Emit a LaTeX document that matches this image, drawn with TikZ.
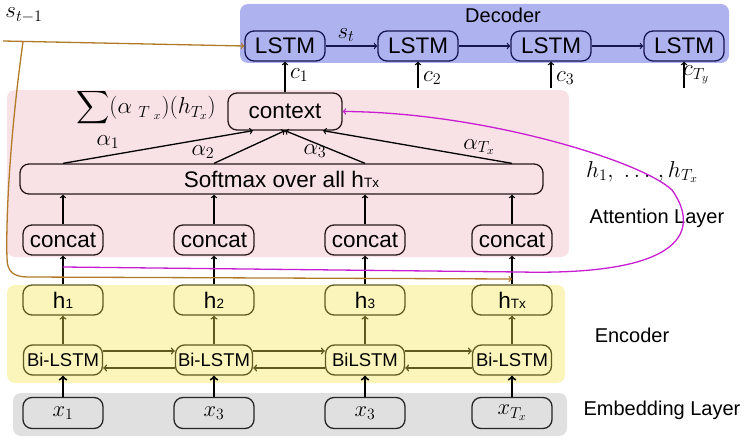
\RequirePackage{fix-cm}
\documentclass[tikz,border=0pt]{standalone}
\usepackage[no-math]{fontspec}
\setmainfont{Liberation Sans}
\DeclareFontFamily{OMX}{cmex}{}
\DeclareFontShape{OMX}{cmex}{m}{n}{<->cmex10}{}
\usetikzlibrary{calc}
\definecolor{decbg}{RGB}{174,178,238}
\definecolor{navyc}{RGB}{22,22,80}
\definecolor{attbg}{RGB}{249,226,230}
\definecolor{attbd}{RGB}{40,25,25}
\definecolor{encbg}{RGB}{251,245,187}
\definecolor{olivec}{RGB}{95,90,30}
\definecolor{embbg}{RGB}{224,224,224}
\definecolor{brownc}{RGB}{176,122,40}
\definecolor{magc}{RGB}{200,30,210}
\tikzset{
  nodefont/.style={font=\fontsize{22.5}{24}\selectfont},
  lstmbox/.style={draw=navyc, line width=1.3pt, rounded corners=9pt, minimum width=80pt, minimum height=30pt, inner sep=0pt, nodefont},
  attbox/.style={draw=attbd, fill=attbg, line width=1.3pt, rounded corners=9pt, minimum width=80pt, minimum height=30pt, inner sep=0pt, nodefont},
  encbox/.style={draw=olivec, fill=encbg, line width=1.3pt, rounded corners=9pt, minimum width=80pt, minimum height=30pt, inner sep=0pt, nodefont},
  embbox/.style={draw=black!85, fill=embbg, line width=1.3pt, rounded corners=9pt, minimum width=80pt, minimum height=31pt, inner sep=0pt, nodefont},
  lbl/.style={inner sep=0pt, font=\fontsize{20}{22}\selectfont},
  mlbl/.style={inner sep=0pt, font=\fontsize{23}{25}\selectfont},
  navyarr/.style={draw=navyc, line width=1.3pt, ->},
  blkarr/.style={draw=black, line width=1.3pt, ->},
  thickarr/.style={draw=black, line width=2pt, ->},
  olivearr/.style={draw=olivec, line width=1.5pt, ->},
  brownline/.style={draw=brownc, line width=1.3pt},
  magline/.style={draw=magc, line width=1.3pt},
}
\newcommand{\smallsub}[1]{{\fontsize{13.5}{14}\selectfont #1}}
\begin{document}
\begin{tikzpicture}[x=1pt,y=-1pt]
\useasboundingbox (0,0) rectangle (747,444);
% layer backgrounds
\fill[decbg, rounded corners=8pt] (240,4) rectangle (729,63);
\fill[attbg, rounded corners=8pt] (7,90) rectangle (569,257);
\fill[encbg, rounded corners=8pt] (7,285) rectangle (565,383);
\fill[embbg, rounded corners=8pt] (13,393) rectangle (567,436);

% decoder
\node[lstmbox] (d1) at (285,46) {LSTM};
\node[lstmbox] (d2) at (418,46) {LSTM};
\node[lstmbox] (d3) at (551,46) {LSTM};
\node[lstmbox] (d4) at (684,46) {LSTM};
\node[lbl] (declbl) at (503,15) {Decoder};
\draw[navyarr] (d1) -- (d2);
\draw[navyarr] (d2) -- (d3);
\draw[navyarr] (d3) -- (d4);
\node[mlbl] (stlbl) at (346,35) {$s_t$};

% attention
\node[attbox, minimum width=114pt, minimum height=37pt] (ctx) at (285,111.5) {context};
\node[attbox, minimum width=523pt] (sm) at (281.5,179) {Softmax over all h\smallsub{Tx}};
\node[attbox] (cc1) at (63,240) {concat};
\node[attbox] (cc2) at (214,240) {concat};
\node[attbox] (cc3) at (365,240) {concat};
\node[attbox] (cc4) at (512,240) {concat};
\node[mlbl] (sumlbl) at (146,108) {$\displaystyle\sum(\alpha_{\ T_{\ x}})(h_{T_x})$};

\draw[blkarr] (sm.north -| cc1) -- ([xshift=-32pt]ctx.south);
\draw[blkarr] (sm.north -| cc2) -- (ctx.south);
\draw[blkarr] (sm.north -| cc3) -- (ctx.south);
\draw[blkarr] (sm.north -| cc4) -- ([xshift=38pt]ctx.south);
\node[mlbl] (a1) at (108,142) {$\alpha_1$};
\node[mlbl] (a2) at (203,152) {$\alpha_2$};
\node[mlbl] (a3) at (315,151) {$\alpha_3$};
\node[mlbl] (a4) at (479,147) {$\alpha_{T_x}$};

\draw[blkarr] (cc1) -- (cc1 |- sm.south);
\draw[blkarr] (cc2) -- (cc2 |- sm.south);
\draw[blkarr] (cc3) -- (cc3 |- sm.south);
\draw[blkarr] (cc4) -- (cc4 |- sm.south);

% context vectors to decoder
\draw[blkarr] (ctx.north) -- (d1.south);
\coordinate (c2s) at (d2.south |- 0,88);
\coordinate (c3s) at (d3.south |- 0,88);
\coordinate (c4s) at (d4.south |- 0,88);
\draw[blkarr] (c2s) -- (d2.south);
\draw[blkarr] (c3s) -- (d3.south);
\draw[blkarr] (c4s) -- (d4.south);
\node[mlbl, anchor=west] (c1l) at (290,75) {$c_1$};
\node[mlbl, anchor=west] (c2l) at (423,78) {$c_2$};
\node[mlbl, anchor=west] (c3l) at (556,78) {$c_3$};
\node[mlbl, anchor=west] (c4l) at (683,75) {$c_{T_y}$};

% encoder
\node[encbox] (h1) at (63,300) {h\smallsub{1}};
\node[encbox] (h2) at (214,300) {h\smallsub{2}};
\node[encbox] (h3) at (365,300) {h\smallsub{3}};
\node[encbox] (h4) at (512,300) {h\smallsub{Tx}};
\node[encbox, minimum width=79pt, font=\fontsize{18.5}{20}\selectfont] (b1) at (63,360) {Bi-LSTM};
\node[encbox, minimum width=77pt, font=\fontsize{18.5}{20}\selectfont] (b2) at (214,360) {Bi-LSTM};
\node[encbox, minimum width=79pt, font=\fontsize{18.5}{20}\selectfont] (b3) at (365,360) {BiLSTM};
\node[encbox, minimum width=79pt, font=\fontsize{18.5}{20}\selectfont] (b4) at (512,360) {Bi-LSTM};
\draw[olivearr] (b1) -- (h1);
\draw[olivearr] (b2) -- (h2);
\draw[olivearr] (b3) -- (h3);
\draw[olivearr] (b4) -- (h4);
\draw[olivearr] ([yshift=9pt]b1.east) -- ([yshift=9pt]b2.west);
\draw[olivearr] ([yshift=9pt]b2.east) -- ([yshift=9pt]b3.west);
\draw[olivearr] ([yshift=9pt]b3.east) -- ([yshift=9pt]b4.west);
\draw[olivearr] ([yshift=-8pt]b2.west) -- ([yshift=-8pt]b1.east);
\draw[olivearr] ([yshift=-8pt]b3.west) -- ([yshift=-8pt]b2.east);
\draw[olivearr] ([yshift=-8pt]b4.west) -- ([yshift=-8pt]b3.east);
\draw[blkarr] (h1) -- (cc1);
\draw[blkarr] (h2) -- (cc2);
\draw[blkarr] (h3) -- (cc3);
\draw[blkarr] (h4) -- (cc4);

% embedding
\node[embbox] (x1) at (63,413) {$x_1$};
\node[embbox] (x2) at (214,413) {$x_3$};
\node[embbox] (x3) at (365,413) {$x_3$};
\node[embbox] (x4) at (512,413) {$x_{T_x}$};
\draw[thickarr] (x1) -- (b1);
\draw[thickarr] (x2) -- (b2);
\draw[thickarr] (x3) -- (b3);
\draw[thickarr] (x4) -- (b4);

% right labels
\node[mlbl] (hslbl) at (642,172) {$h_{1},\ \ldots\,,h_{T_x}$};
\node[lbl] (attlbl) at (657,218) {Attention Layer};
\node[lbl] (enclbl) at (632,335) {Encoder};
\node[lbl] (emblbl) at (662,410) {Embedding Layer};

% previous state
\node[mlbl] (st1) at (24,15) {$s_{t-1}$};
\coordinate (bstart) at (3,41);
\coordinate (bbranch) at ($(bstart)!0.083!(d1.west)$);
\coordinate (bend) at (cc4 |- 0,279);
\draw[brownline,->] (bstart) -- (d1.west);
\draw[brownline,->] (bbranch) .. controls (8,150) and (6,230) .. (7,258)
   .. controls (7,272) and (14,277) .. (28,277) -- (bend);

% magenta: encoder states to context
\coordinate (mstart) at (cc1 |- 0,267);
\draw[magline,->] (mstart) -- (520,272) .. controls (700,276) and (695,222) .. (672,190)
   .. controls (640,160) and (480,112) .. (ctx.east);
\end{tikzpicture}
\end{document}
